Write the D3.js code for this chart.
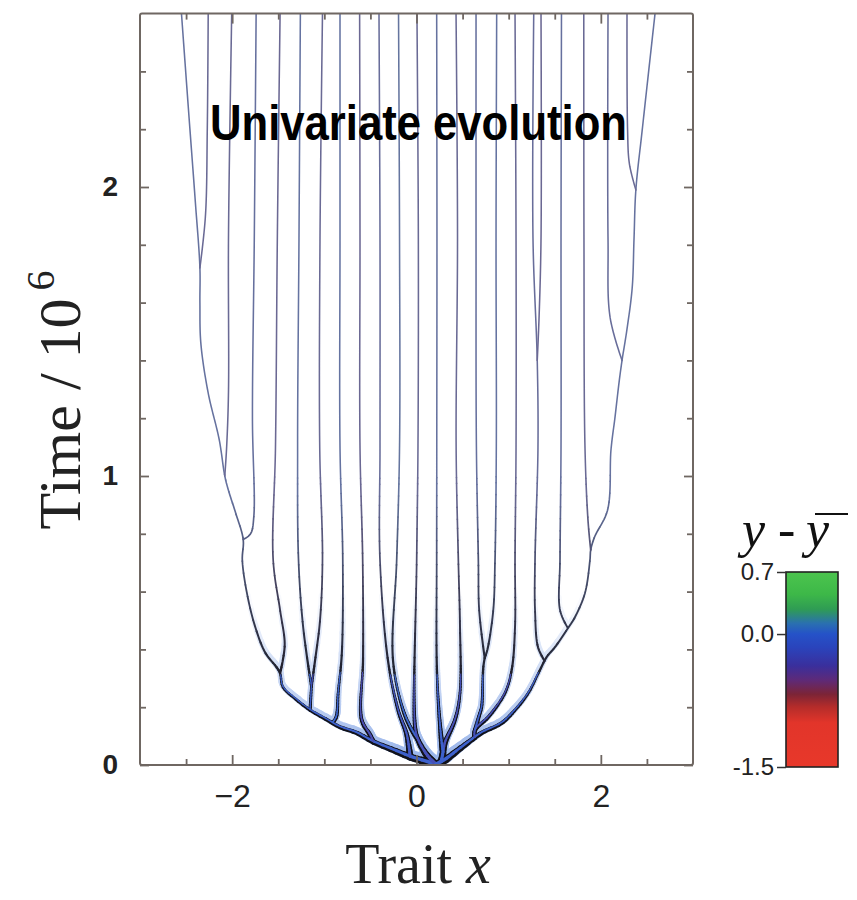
<!DOCTYPE html>
<html>
<head>
<meta charset="utf-8">
<title>Univariate evolution</title>
<script src="https://d3js.org/d3.v7.min.js"></script>
<style>
  body { margin: 0; background: #fff; }
  svg { display: block; }
</style>
</head>
<body>
<div id="chart"></div>
<script>
// ticks
const xTicksMajor = [-2, 0, 2];
const xTicksMinor = [-2.5, -1.5, -1, -0.5, 0.5, 1, 1.5, 2.5];
const yTicksMajor = [0, 1, 2];
const yTicksMinor = [0.2, 0.4, 0.6, 0.8, 1.2, 1.4, 1.6, 1.8, 2.2, 2.4];

// colour bar (y - ybar)
const cbTicks = [0.7, 0.0, -1.5];
const cbValues = [-1.5, -1.0, -0.82, -0.68, -0.52, -0.36, -0.15, 0.0, 0.12, 0.28, 0.45, 0.7];
const cbColors = ["#e8382a", "#e2352a", "#b42c2a", "#7c2436", "#5e2a78", "#3a2f9c",
                  "#2a44bc", "#2552c8", "#2a70b0", "#2f9c54", "#3db848", "#4cc44e"];

// lineages, points are [trait x, time / 1e6]
const stemLeft = [[0.21, 0.0], [0.04, 0.017], [-0.07, 0.028], [-0.255, 0.052], [-0.47, 0.08],
  [-0.65, 0.111], [-0.83, 0.131], [-0.97, 0.156], [-1.155, 0.19], [-1.3, 0.225], [-1.45, 0.27],
  [-1.48, 0.318], [-1.52, 0.339], [-1.64, 0.388], [-1.75, 0.478], [-1.84, 0.595], [-1.89, 0.709],
  [-1.88, 0.78], [-1.96, 0.87], [-2.04, 0.95], [-2.08, 1.0], [-2.14, 1.125], [-2.26, 1.287],
  [-2.34, 1.46], [-2.35, 1.6], [-2.35, 1.72], [-2.4, 1.95], [-2.47, 2.25], [-2.55, 2.6]];
const leftTopInner = [[-2.26, 2.6], [-2.27, 2.2], [-2.29, 1.9], [-2.35, 1.72]];
const L2 = [[-2.005, 2.6], [-2.04, 1.82], [-2.04, 1.29], [-2.06, 1.1], [-2.08, 1.0]];
const L3 = [[-1.74, 2.6], [-1.76, 1.82], [-1.78, 1.2], [-1.765, 0.86], [-1.8, 0.8], [-1.88, 0.78]];
const L4 = [[-1.48, 2.6], [-1.51, 1.82], [-1.53, 1.1], [-1.555, 0.709], [-1.48, 0.536],
  [-1.43, 0.422], [-1.45, 0.363], [-1.48, 0.318]];
const L5 = [[-1.26, 2.6], [-1.275, 1.82], [-1.29, 1.1], [-1.28, 0.709], [-1.23, 0.478], [-1.14, 0.27]];
const L6 = [[-1.02, 2.6], [-1.047, 1.82], [-1.05, 1.1], [-1.02, 0.709], [-1.047, 0.5],
  [-1.1, 0.363], [-1.14, 0.27]];
const L56 = [[-1.14, 0.27], [-1.155, 0.19]];
const L7 = [[-0.83, 2.6], [-0.83, 1.82], [-0.83, 1.1], [-0.8, 0.709], [-0.81, 0.388],
  [-0.85, 0.249], [-0.87, 0.166], [-0.91, 0.145]];
const L8 = [[-0.617, 2.6], [-0.613, 1.82], [-0.613, 1.1], [-0.584, 0.709], [-0.58, 0.363],
  [-0.595, 0.156], [-0.505, 0.104], [-0.47, 0.08]];
const L9 = [[-0.407, 2.6], [-0.396, 1.82], [-0.396, 1.1], [-0.396, 0.709], [-0.31, 0.363],
  [-0.2, 0.19], [-0.106, 0.104], [-0.07, 0.028]];
const L10 = [[-0.195, 2.6], [-0.184, 1.82], [-0.184, 1.1], [-0.215, 0.709], [-0.255, 0.363],
  [-0.146, 0.19], [-0.05, 0.12], [0.016, 0.087]];
const L11 = [[0.005, 2.6], [0.02, 1.82], [0.016, 1.1], [0.002, 0.709], [-0.016, 0.131],
  [0.016, 0.087], [0.12, 0.03], [0.21, 0.0]];
const stemRight = [[0.21, 0.0], [0.27, 0.01], [0.31, 0.017], [0.454, 0.052], [0.6, 0.087],
  [0.707, 0.111], [0.924, 0.145], [1.069, 0.19], [1.213, 0.249], [1.34, 0.329], [1.413, 0.374],
  [1.503, 0.408], [1.63, 0.467], [1.72, 0.512], [1.828, 0.595], [1.882, 0.709], [1.89, 0.744],
  [1.932, 0.789], [2.073, 0.882], [2.11, 1.09], [2.154, 1.204], [2.197, 1.322], [2.23, 1.4],
  [2.28, 1.5], [2.34, 1.65], [2.36, 1.82], [2.38, 1.99], [2.45, 2.2], [2.588, 2.6]];
const rightTopInner = [[2.284, 2.6], [2.29, 2.2], [2.31, 2.08], [2.38, 1.99]];
const L21 = [[2.078, 2.6], [2.078, 1.82], [2.1, 1.55], [2.23, 1.4]];
const L20 = [[1.815, 2.6], [1.817, 1.82], [1.828, 1.1], [1.86, 0.85], [1.89, 0.744]];
const L19 = [[1.573, 2.6], [1.568, 1.82], [1.568, 1.1], [1.557, 0.709], [1.557, 0.536], [1.64, 0.475]];
const L17 = [[1.272, 2.6], [1.264, 1.82], [1.31, 1.4], [1.318, 1.1], [1.286, 0.709],
  [1.286, 0.536], [1.318, 0.408], [1.39, 0.36]];
const L18 = [[1.351, 2.6], [1.351, 1.82], [1.33, 1.55], [1.31, 1.4]];
const L16 = [[1.069, 2.6], [1.08, 1.82], [1.08, 1.1], [1.069, 0.709], [1.069, 0.478],
  [1.033, 0.329], [0.96, 0.249], [0.78, 0.166], [0.635, 0.121], [0.63, 0.094]];
const L14 = [[0.646, 2.6], [0.646, 1.82], [0.65, 1.1], [0.671, 0.709], [0.68, 0.536], [0.74, 0.37]];
const L15 = [[0.87, 2.6], [0.863, 1.82], [0.866, 1.1], [0.852, 0.709], [0.833, 0.536],
  [0.77, 0.4], [0.74, 0.37]];
const L1415 = [[0.74, 0.37], [0.725, 0.339], [0.707, 0.201], [0.689, 0.18], [0.635, 0.121]];
const L13 = [[0.429, 2.6], [0.445, 1.82], [0.43, 1.1], [0.454, 0.709], [0.472, 0.478],
  [0.472, 0.249], [0.418, 0.156], [0.309, 0.076], [0.288, 0.042]];
const L12 = [[0.219, 2.6], [0.222, 1.82], [0.22, 1.1], [0.219, 0.709], [0.219, 0.363],
  [0.237, 0.215], [0.273, 0.076], [0.288, 0.042]];
const L1213 = [[0.288, 0.042], [0.27, 0.01]];

const branches = [stemLeft, leftTopInner, L2, L3, L4, L5, L6, L56, L7, L8, L9, L10, L11,
  stemRight, rightTopInner, L21, L20, L19, L17, L18, L16, L14, L15, L1415, L13, L12, L1213];
// mean y - ybar carried by each lineage
const branchDev = [-0.05, -0.3, -0.3, -0.1, -0.35, 0.0, -0.3, -0.1, 0.0, -0.35, -0.2, 0.02, -0.3,
  -0.05, -0.3, -0.2, -0.3, -0.1, -0.2, -0.35, -0.3, -0.1, 0.0, -0.05, -0.3, -0.05, -0.05];

const svg = d3.select("#chart").append("svg")
    .attr("width", 857)
    .attr("height", 900);

const x = d3.scaleLinear().domain([-3, 3]).range([140, 693]);
const y = d3.scaleLinear().domain([0, 2.6]).range([765, 13.6]);

const frameColor = "#6f6762";

svg.append("defs").append("clipPath").attr("id", "plotclip")
  .append("rect")
    .attr("x", x(-3)).attr("y", y(2.6))
    .attr("width", x(3) - x(-3)).attr("height", y(0) - y(2.6));

// colour scale
const cb = d3.scaleLinear().domain(cbValues).range(cbColors).interpolate(d3.interpolateRgb);

// young branches carry more individuals, so they are drawn wider
function widthAt(t) {
  return 1.55 + 1.8 * Math.exp(-t / 0.3) + 5.0 * Math.exp(-t / 0.1);
}
function upperColor(dev) {
  return d3.interpolateRgb(cb(dev), "#83838e")(0.68);
}
function outlineColor(t, dev) {
  let s = Math.max(0, Math.min(1, (t - 0.2) / 0.75));
  return d3.interpolateRgb("#121219", upperColor(dev))(s);
}

// sample each lineage along a smooth curve, then cut it into pieces of similar time
let curve = d3.line().x(d => x(d[0])).y(d => y(d[1])).curve(d3.curveCatmullRom.alpha(0.5));
let tmp = svg.append("path").attr("fill", "none");

function tKey(t) {
  return t < 0.35 ? Math.round(t * 100) : t < 1.0 ? 100 + Math.round(t * 25) : 999;
}

let pieces = [];
branches.forEach((b, bi) => {
  tmp.attr("d", curve(b));
  let node = tmp.node();
  let len = node.getTotalLength();
  let n = Math.max(2, Math.ceil(len / 3));
  let s = [];
  for (let i = 0; i <= n; i++) {
    let p = node.getPointAtLength(len * i / n);
    s.push([p.x, p.y]);
  }
  let cur = [s[0]];
  let key = tKey(y.invert(s[0][1]));
  for (let i = 1; i < s.length; i++) {
    let k = tKey(y.invert(s[i][1]));
    cur.push(s[i]);
    if (k !== key) {
      pieces.push({pts: cur, dev: branchDev[bi]});
      cur = [s[i]];
      key = k;
    }
  }
  if (cur.length > 1) pieces.push({pts: cur, dev: branchDev[bi]});
});
tmp.remove();
pieces.forEach(p => { p.t = d3.mean(p.pts, q => y.invert(q[1])); p.w = widthAt(p.t); });

let plain = d3.line();
let tree = svg.append("g").attr("clip-path", "url(#plotclip)");

// light blue glow on the upper side of the young branches
tree.append("g")
    .attr("transform", "translate(0,-2)")
  .selectAll("path")
  .data(pieces.filter(p => p.t < 0.6))
  .enter()
  .append("path")
    .attr("d", p => plain(p.pts))
    .attr("fill", "none")
    .attr("stroke", p => d3.interpolateRgb("#98b4ea", "#ffffff")(p.t / 0.6))
    .attr("stroke-width", p => p.w + 4)
    .attr("stroke-linecap", "round")
    .attr("stroke-linejoin", "round");

tree.append("g")
  .selectAll("path")
  .data(pieces)
  .enter()
  .append("path")
    .attr("d", p => plain(p.pts))
    .attr("fill", "none")
    .attr("stroke", p => outlineColor(p.t, p.dev))
    .attr("stroke-width", p => p.w)
    .attr("stroke-linecap", "round")
    .attr("stroke-linejoin", "round");

tree.append("g")
    .attr("transform", "translate(0,-0.8)")
  .selectAll("path")
  .data(pieces.filter(p => p.w > 2.4))
  .enter()
  .append("path")
    .attr("d", p => plain(p.pts))
    .attr("fill", "none")
    .attr("stroke", p => d3.interpolateRgb(cb(p.dev), "#6f90e0")(0.3))
    .attr("stroke-width", p => p.w * 0.45)
    .attr("stroke-linecap", "round");

// frame
svg.append("rect")
    .attr("x", x(-3)).attr("y", y(2.6))
    .attr("width", x(3) - x(-3)).attr("height", y(0) - y(2.6))
    .attr("rx", 2)
    .attr("fill", "none")
    .attr("stroke", frameColor)
    .attr("stroke-width", 2);

function styleAxis(g) {
  g.select(".domain").remove();
  g.selectAll(".tick line").attr("stroke", frameColor).attr("stroke-width", 1.8);
  g.selectAll(".tick text").attr("fill", "#222");
}

// bottom
svg.append("g").attr("transform", "translate(0," + y(0) + ")")
    .call(d3.axisBottom(x).tickValues(xTicksMinor).tickSize(-6).tickFormat(""))
    .call(styleAxis);
svg.append("g").attr("transform", "translate(0," + y(0) + ")")
    .call(d3.axisBottom(x).tickValues(xTicksMajor).tickSize(-10).tickPadding(19)
      .tickFormat(d => d < 0 ? "\u2212" + Math.abs(d) : d))
    .call(styleAxis)
    .call(g => g.selectAll("text")
      .attr("font-family", "Liberation Sans, Arial, sans-serif")
      .attr("font-size", "32px"));
// top
svg.append("g").attr("transform", "translate(0," + y(2.6) + ")")
    .call(d3.axisTop(x).tickValues(xTicksMinor).tickSize(-6).tickFormat(""))
    .call(styleAxis);
svg.append("g").attr("transform", "translate(0," + y(2.6) + ")")
    .call(d3.axisTop(x).tickValues(xTicksMajor).tickSize(-10).tickFormat(""))
    .call(styleAxis);
// left
svg.append("g").attr("transform", "translate(" + x(-3) + ",0)")
    .call(d3.axisLeft(y).tickValues(yTicksMinor).tickSize(-6).tickFormat(""))
    .call(styleAxis);
svg.append("g").attr("transform", "translate(" + x(-3) + ",0)")
    .call(d3.axisLeft(y).tickValues(yTicksMajor).tickSize(-9).tickPadding(22).tickFormat(d3.format("d")))
    .call(styleAxis)
    .call(g => g.selectAll("text")
      .attr("font-family", "Liberation Sans, Arial, sans-serif")
      .attr("font-weight", "bold")
      .attr("font-size", "28px"));
// right
svg.append("g").attr("transform", "translate(" + x(3) + ",0)")
    .call(d3.axisRight(y).tickValues(yTicksMinor).tickSize(-6).tickFormat(""))
    .call(styleAxis);
svg.append("g").attr("transform", "translate(" + x(3) + ",0)")
    .call(d3.axisRight(y).tickValues(yTicksMajor).tickSize(-9).tickFormat(""))
    .call(styleAxis);

// axis titles
let xt = svg.append("text")
    .attr("x", 418).attr("y", 883)
    .attr("text-anchor", "middle")
    .attr("font-family", "Liberation Serif, Times New Roman, serif")
    .attr("font-size", "56px")
    .attr("fill", "#222");
xt.append("tspan").text("Trait ");
xt.append("tspan").attr("font-style", "italic").text("x");

let yt = svg.append("text")
    .attr("transform", "translate(80,400) rotate(-90)")
    .attr("text-anchor", "middle")
    .attr("font-family", "Liberation Serif, Times New Roman, serif")
    .attr("font-size", "60px")
    .attr("fill", "#222");
yt.append("tspan").text("Time / 10");
yt.append("tspan").attr("font-size", "40px").attr("dx", 8).attr("dy", -26).text("6");

// title inside the plot
svg.append("text")
    .attr("x", 210).attr("y", 140)
    .attr("font-family", "Liberation Sans, Arial, sans-serif")
    .attr("font-weight", "bold")
    .attr("font-size", "50px")
    .attr("textLength", 417)
    .attr("lengthAdjust", "spacingAndGlyphs")
    .attr("fill", "#000")
    .text("Univariate evolution");

// colour bar
const cbY = d3.scaleLinear().domain([-1.5, 0.7]).range([767, 572]);
const cbX = 786, cbW = 52;

let grad = svg.select("defs").append("linearGradient")
    .attr("id", "cbgrad")
    .attr("x1", 0).attr("y1", 1).attr("x2", 0).attr("y2", 0);
grad.selectAll("stop")
  .data(cbValues)
  .enter()
  .append("stop")
    .attr("offset", v => (v + 1.5) / 2.2)
    .attr("stop-color", (v, i) => cbColors[i]);

svg.append("rect")
    .attr("x", cbX).attr("y", cbY(0.7))
    .attr("width", cbW).attr("height", cbY(-1.5) - cbY(0.7))
    .attr("fill", "url(#cbgrad)")
    .attr("stroke", "#222")
    .attr("stroke-width", 1.6);

svg.append("g").attr("transform", "translate(" + cbX + ",0)")
    .call(d3.axisLeft(cbY).tickValues(cbTicks).tickSize(9).tickPadding(3).tickFormat(d => d.toFixed(1)))
    .call(g => g.select(".domain").remove())
    .call(g => g.selectAll(".tick line").attr("stroke", "#333").attr("stroke-width", 1.5))
    .call(g => g.selectAll("text")
      .attr("fill", "#222")
      .attr("font-family", "Liberation Sans, Arial, sans-serif")
      .attr("font-size", "24px"));

let cbt = svg.append("g")
    .attr("font-family", "Liberation Serif, Times New Roman, serif")
    .attr("font-size", "52px")
    .attr("fill", "#111");
cbt.append("text").attr("x", 742).attr("y", 547).attr("font-style", "italic").text("y");
cbt.append("text").attr("x", 778).attr("y", 547).text("-");
cbt.append("text").attr("x", 806).attr("y", 547).attr("font-style", "italic").text("y");
svg.append("line")
    .attr("x1", 815).attr("x2", 848)
    .attr("y1", 514).attr("y2", 514)
    .attr("stroke", "#111")
    .attr("stroke-width", 2.2);
</script>
</body>
</html>
